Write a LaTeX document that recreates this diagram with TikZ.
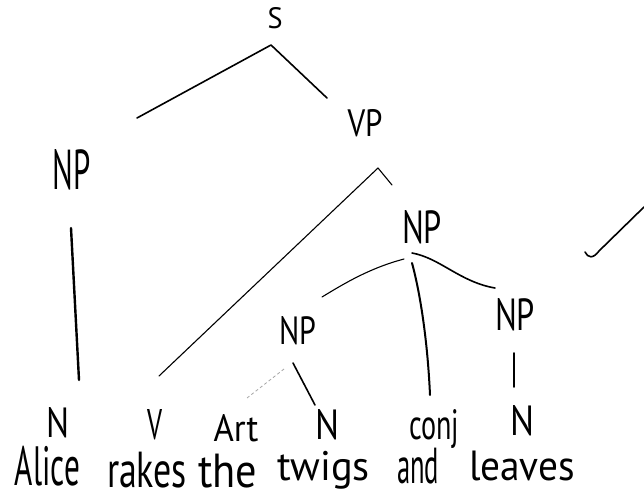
\documentclass[tikz,border=0pt]{standalone}
\usepackage{fontspec}
\setmainfont{PT Sans}
\usepackage{graphicx}
\newcommand{\hw}[3]{\resizebox{#1pt}{#2pt}{#3}}
\newcommand{\hwt}[3]{\resizebox*{#1pt}{#2pt}{#3}}
\begin{document}
\begin{tikzpicture}[x=1pt,y=-1pt,
  lbl/.style={inner sep=0pt, outer sep=0pt},
  word/.style={inner sep=0pt, outer sep=0pt, anchor=north west},
  edge/.style={line width=1.6pt, line cap=round, line join=round},
  thinedge/.style={line width=1.1pt, line cap=round, line join=round},
  faint/.style={line width=0.8pt, gray!70, dash pattern=on 3pt off 2.5pt}]
\useasboundingbox (0,0) rectangle (644,501);
\fill[white] (0,0) rectangle (644,501);

% category labels
\node[lbl] (S)   at (275,18)  {\hw{15}{21}{S}};
\node[lbl] (NPa) at (72,170)  {\hw{38}{40}{NP}};
\node[lbl] (VP)  at (365,123) {\hw{35}{27}{VP}};
\node[lbl] (NPb) at (422,227) {\hw{40}{33}{NP}};
\node[lbl] (NPc) at (298,331) {\hw{37}{28}{NP}};
\node[lbl] (NPd) at (515,315) {\hw{40}{32}{NP}};
\node[lbl] (Na)  at (58,423)  {\hw{23}{30}{N}};
\node[lbl] (V)   at (155,425) {\hw{15}{30}{V}};
\node[lbl] (Art) at (236,428) {\hw{45}{27}{Art}};
\node[lbl] (Nb)  at (327,425) {\hw{24}{30}{N}};
\node[lbl] (conj) at (434,429) {\hw{50}{30}{conj}};
\node[lbl] (Nc)  at (522,421) {\hw{24}{30}{N}};

% words
\node[word] (w1) at (15,446)  {\hwt{65}{40}{Alice}};
\node[word] (w2) at (107,452) {\hwt{80}{36}{rakes}};
\node[word] (w3) at (198,454) {\hwt{59}{34}{the}};
\node[word] (w4) at (277,451) {\hwt{93}{38}{twigs}};
\node[word] (w5) at (397,448) {\hwt{42}{36}{and}};
\node[word] (w6) at (469,451) {\hwt{106}{30}{leaves}};

% branch end points
\coordinate (s-top)  at (271,45);
\coordinate (s-l)    at (137,118);
\coordinate (s-r)    at (327,98);
\coordinate (npa-t)  at (71,228);
\coordinate (npa-b)  at (79,380);
\coordinate (vp-top) at (378,168);
\coordinate (vp-l)   at (159,376);
\coordinate (vp-r)   at (392,185);
\coordinate (npb-top) at (412,253);
\coordinate (npb-lt) at (404,259);
\coordinate (npb-l)  at (322,297);
\coordinate (npb-r)  at (495,288);
\coordinate (npb-mt) at (412,263);
\coordinate (npb-m)  at (430,395);
\coordinate (npd-t)  at (514,353);
\coordinate (npd-b)  at (514,387);
\coordinate (npc-rt) at (293,363);
\coordinate (npc-r)  at (315,405);
\coordinate (npc-lt) at (284,369);
\coordinate (npc-l)  at (247,398);
\coordinate (chk-a)  at (644,207);
\coordinate (chk-b)  at (599,251);
\coordinate (chk-c)  at (585,252);

% branches
\draw[edge] (s-l) -- (s-top) -- (s-r);
\draw[edge, line width=2.4pt] (npa-t) -- (npa-b);
\draw[thinedge] (vp-l) -- (vp-top) -- (vp-r);
\draw[thinedge] (npb-lt) .. controls (370,268) and (345,283) .. (npb-l);
\draw[edge] (npb-top) .. controls (440,258) and (460,282) .. (npb-r);
\draw[edge, line width=2pt] (npb-mt) .. controls (422,300) and (428,350) .. (npb-m);
\draw[edge] (npd-t) -- (npd-b);
\draw[edge] (npc-rt) -- (npc-r);
\draw[faint] (npc-lt) -- (npc-l);
\draw[edge] (chk-a) -- (chk-b) .. controls (593,259) and (588,258) .. (chk-c);
\end{tikzpicture}
\end{document}
